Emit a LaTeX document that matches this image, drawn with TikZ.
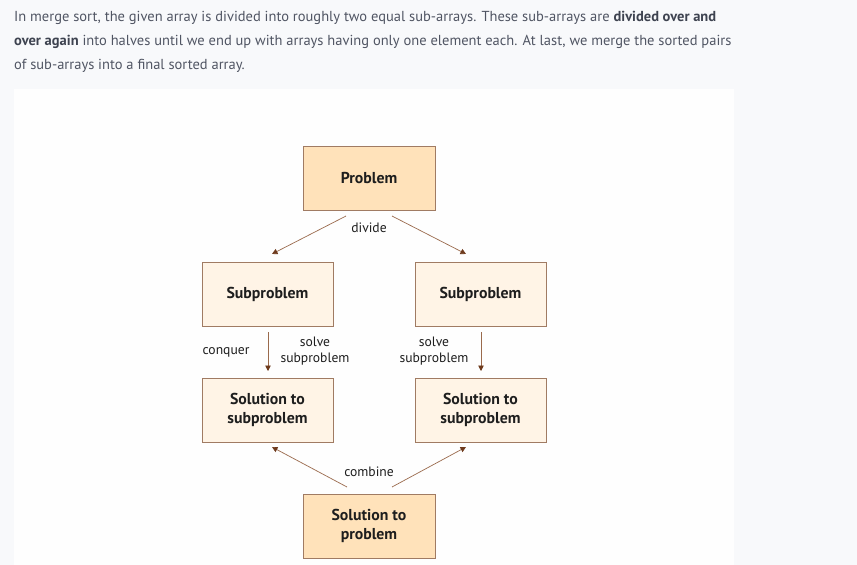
\documentclass[tikz,border=0pt]{standalone}
\usepackage{fontspec}
\setmainfont{PT Sans}
\usetikzlibrary{arrows.meta}
\definecolor{pagebg}{HTML}{F8F9FB}
\definecolor{panel}{HTML}{FEFEFE}
\definecolor{bodytext}{HTML}{505563}
\definecolor{boldtext}{HTML}{3E4350}
\definecolor{peach}{HTML}{FFE2BA}
\definecolor{cream}{HTML}{FFF4E6}
\definecolor{boxline}{HTML}{A07B63}
\definecolor{arrowline}{HTML}{9A6A4C}
\definecolor{arrowtip}{HTML}{6E3A1C}
\definecolor{labeltext}{HTML}{1E1E1E}
\tikzset{
  x=1pt,y=-1pt,
  para/.style={anchor=west,inner sep=0pt,text=bodytext,font=\fontsize{14.5}{17}\selectfont},
  mainbox/.style={draw=boxline,line width=0.9pt,fill=peach,minimum width=132pt,minimum height=64pt,inner sep=2pt,align=center,font=\fontsize{15.8}{19.5}\selectfont\bfseries,text=labeltext},
  subbox/.style={mainbox,fill=cream,minimum width=131pt},
  flow/.style={draw=arrowline,line width=0.7pt,-{Triangle[width=5.5pt,length=5.5pt,fill=arrowtip,color=arrowtip]}},
  lbl/.style={inner sep=0pt,align=center,text=labeltext,font=\fontsize{13.6}{16}\selectfont}
}
\begin{document}
\begin{tikzpicture}
\useasboundingbox (0,0) rectangle (857,565);
\fill[pagebg] (0,0) rectangle (857,565);
\fill[panel] (14,89) rectangle (734,565);
\node[para] (l1) at (14,18) {In merge sort, the given array is divided into roughly two equal sub-arrays. These sub-arrays are {\color{boldtext}\bfseries divided over and}};
\node[para] (l2) at (14,42) {{\color{boldtext}\bfseries over again} into halves until we end up with arrays having only one element each. At last, we merge the sorted pairs};
\node[para] (l3) at (14,66) {of sub-arrays into a final sorted array.};

\node[mainbox] (prob) at (369,178) {Problem};
\node[subbox] (subL) at (267.5,294) {Subproblem};
\node[subbox] (subR) at (480.5,294) {Subproblem};
\node[subbox] (solL) at (267.5,410) {Solution to\\subproblem};
\node[subbox] (solR) at (480.5,410) {Solution to\\subproblem};
\node[mainbox] (solP) at (369,526) {Solution to\\problem};

\coordinate (dL0) at (346,216); \coordinate (dL1) at (272,254);
\coordinate (dR0) at (392,216); \coordinate (dR1) at (466,254);
\coordinate (cL0) at (347,487); \coordinate (cL1) at (272,447);
\coordinate (cR0) at (392,487); \coordinate (cR1) at (466,447);
\coordinate (vL0) at (268,332); \coordinate (vL1) at (268,371);
\coordinate (vR0) at (481,332); \coordinate (vR1) at (481,371);

\draw[flow] (dL0) -- (dL1);
\draw[flow] (dR0) -- (dR1);
\draw[flow] (vL0) -- (vL1);
\draw[flow] (vR0) -- (vR1);
\draw[flow] (cL0) -- (cL1);
\draw[flow] (cR0) -- (cR1);

\node[lbl] (divide) at (369,228) {divide};
\node[lbl] (conquer) at (226,352) {conquer};
\node[lbl] (solveL) at (315,351) {solve\\subproblem};
\node[lbl] (solveR) at (434,351) {solve\\subproblem};
\node[lbl] (combine) at (369,472) {combine};
\end{tikzpicture}
\end{document}
